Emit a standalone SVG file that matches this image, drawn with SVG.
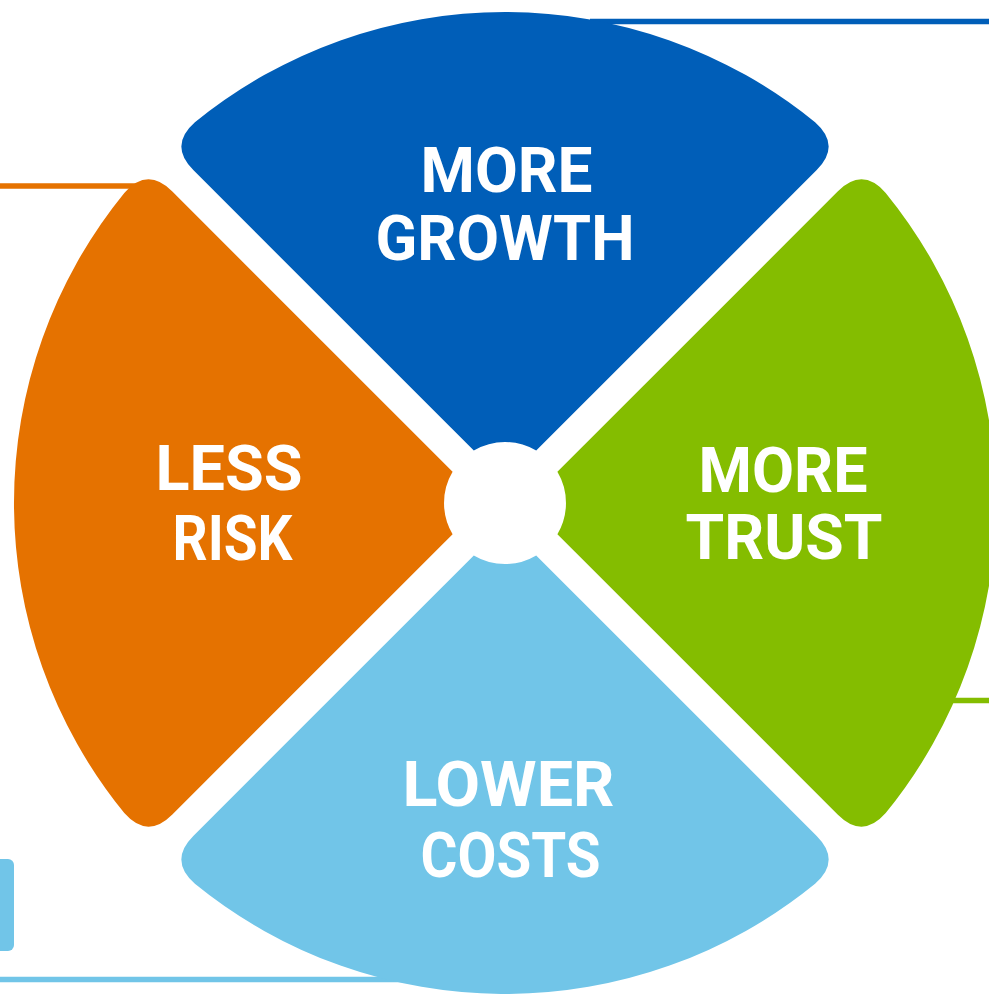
<svg xmlns="http://www.w3.org/2000/svg" width="989" height="994" viewBox="0 0 989 994">
<defs>
<style>
.lbl{font-family:Roboto,"Liberation Sans",sans-serif;font-weight:700;font-size:63px;fill:#ffffff;text-anchor:middle}
.ln{stroke-width:5.5;fill:none}
</style>
<path id="sector" d="M -31.2 -52.4 L -311.7 -332.9 Q -336.4 -357.6 -310.1 -380.7 A 491 491 0 0 1 310.1 -380.7 Q 336.4 -357.6 311.7 -332.9 L 31.2 -52.4 A 61 61 0 0 0 -31.2 -52.4 Z"/>
</defs>
<rect width="989" height="994" fill="#ffffff"/>
<g id="connectors">
<line class="ln" x1="590" y1="21.5" x2="989" y2="21.5" stroke="#005EB8"/>
<line class="ln" x1="0" y1="186" x2="160" y2="186" stroke="#E57200"/>
<line class="ln" x1="930" y1="700.5" x2="989" y2="700.5" stroke="#84BD00"/>
<line class="ln" x1="0" y1="979.5" x2="430" y2="979.5" stroke="#71C5E8"/>
<rect x="-10" y="859" width="24" height="92" rx="6" fill="#71C5E8"/>
</g>
<g id="growth">
<use href="#sector" transform="translate(505,503)" fill="#005EB8"/>
<text class="lbl" x="506.5" y="192" textLength="172" lengthAdjust="spacingAndGlyphs">MORE</text>
<text class="lbl" x="505" y="260" textLength="259" lengthAdjust="spacingAndGlyphs">GROWTH</text>
</g>
<g id="risk">
<use href="#sector" transform="translate(505,503) rotate(-90)" fill="#E57200"/>
<text class="lbl" x="229" y="490" textLength="147" lengthAdjust="spacingAndGlyphs">LESS</text>
<text class="lbl" x="232.5" y="560" textLength="120" lengthAdjust="spacingAndGlyphs">RISK</text>
</g>
<g id="trust">
<use href="#sector" transform="translate(505,503) rotate(90)" fill="#84BD00"/>
<text class="lbl" x="783" y="492" textLength="169" lengthAdjust="spacingAndGlyphs">MORE</text>
<text class="lbl" x="784" y="559" textLength="197" lengthAdjust="spacingAndGlyphs">TRUST</text>
</g>
<g id="costs">
<use href="#sector" transform="translate(505,503) rotate(180)" fill="#71C5E8"/>
<text class="lbl" x="508.5" y="806" textLength="212" lengthAdjust="spacingAndGlyphs">LOWER</text>
<text class="lbl" x="510.5" y="877" textLength="180" lengthAdjust="spacingAndGlyphs">COSTS</text>
</g>
</svg>
